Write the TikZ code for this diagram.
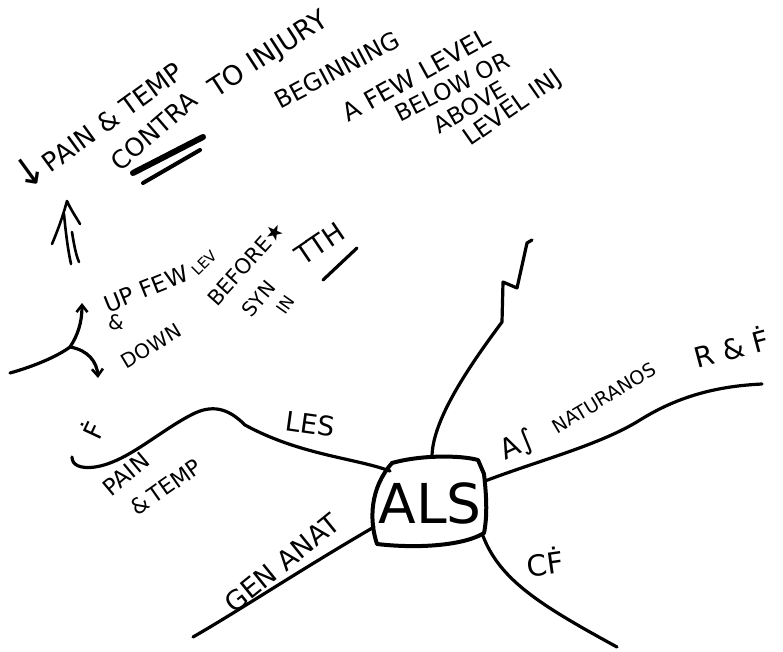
\documentclass[tikz,border=0pt]{standalone}
\usepackage{fontspec}
\setmainfont{DejaVu Sans}
\usetikzlibrary{arrows.meta}
\tikzset{
  hw/.style={inner sep=0pt, font=\fontsize{#1}{#1}\selectfont},
  hw/.default=20,
  pen/.style={line width=3.2pt, line cap=round, line join=round, black},
  tip/.style={-{Straight Barb[length=7pt,width=11pt,line width=2.6pt]}}
}
\begin{document}
\begin{tikzpicture}[x=1pt,y=-1pt]
\useasboundingbox (0,0) rectangle (783,651);
\fill[white] (0,0) rectangle (783,651);

% ---- central box
\node[hw=55] (als) at (430,503) {ALS};
\draw[pen,line width=4pt] (392,463) .. controls (420,455) and (460,455) .. (478,460)
  -- (484,474) .. controls (487,500) and (487,518) .. (484,533)
  .. controls (465,545) and (420,549) .. (377,544)
  .. controls (369,520) and (370,488) .. (392,463) -- cycle;

% ---- branch anchors
\coordinate (bL) at (390,471);
\coordinate (bT) at (432,457);
\coordinate (bR) at (485,481);
\coordinate (bBR) at (483,536);
\coordinate (bBL) at (374,527);
\coordinate (eL) at (72,457);
\coordinate (eT) at (532,240);
\coordinate (eR) at (762,384);
\coordinate (eBR) at (617,647);
\coordinate (eBL) at (193,637);

% ---- branches
\draw[pen] (bL) .. controls (355,458) and (300,455) .. (245,425)
  .. controls (230,410) and (215,404) .. (195,413)
  .. controls (160,430) and (128,462) .. (95,467)
  .. controls (80,469) and (72,465) .. (eL);
\draw[pen] (bT) .. controls (432,420) and (470,365) .. (502,322)
  -- (503,282) -- (517,288) -- (527,243) -- (eT);
\draw[pen] (bR) .. controls (540,460) and (600,445) .. (640,420)
  .. controls (680,395) and (720,386) .. (eR);
\draw[pen] (bBR) .. controls (500,580) and (540,605) .. (eBR);
\draw[pen] (bBL) .. controls (300,570) and (240,610) .. (eBL);

% ---- branch labels
\node[hw=26, rotate=65] (fdotL) at (92,430) {Ḟ};
\node[hw=27, rotate=-8] (les) at (310,424) {LES};
\node[hw=23, rotate=40] (pain) at (126,474) {PAIN};
\node[hw=22, rotate=35] (temp) at (166,487) {\&\,TEMP};
\node[hw=27, rotate=39] (gen) at (282,563) {GEN ANAT};
\node[hw=28, rotate=25] (as) at (518,446) {A∫};
\node[hw=19, rotate=31] (natur) at (604,398) {NATURANOS};
\node[hw=28, rotate=15] (rf) at (731,347) {R \& Ḟ};
\node[hw=29, rotate=8] (cf) at (545,562) {CḞ};

% ---- upper left fork arrows
\coordinate (fork) at (70,347);
\coordinate (fs) at (10,373);
\coordinate (fu) at (82,303);
\coordinate (fd) at (98,378);
\draw[pen] (fs) .. controls (35,366) and (58,356) .. (fork);
\draw[pen,tip] (fork) .. controls (78,335) and (82,322) .. (fu);
\draw[pen,tip] (fork) .. controls (88,350) and (97,362) .. (fd);

% ---- double arrow up
\coordinate (dtip) at (67,201);
\draw[pen,line width=2.6pt] (52,244) .. controls (60,225) and (64,212) .. (dtip)
  .. controls (71,210) and (76,217) .. (80,224);
\draw[pen,line width=2.6pt] (64,214) .. controls (66,235) and (68,250) .. (71,264);
\draw[pen,line width=2.6pt] (72,232) .. controls (74,245) and (76,255) .. (79,262);

% ---- middle-left notes
\node[hw=23, rotate=22] (upfew) at (146,289) {UP FEW};
\node[hw=15, rotate=45] (lev) at (204,263) {LEV};
\node[hw=21, rotate=48] (before) at (246,264) {BEFORE★};
\node[hw=20] (amp) at (116,322) {\&};
\node[hw=20, rotate=31] (down) at (151,346) {DOWN};
\node[hw=20, rotate=50] (syn) at (259,299) {SYN};
\node[hw=17, rotate=55] (in) at (286,305) {IN};
\node[hw=27, rotate=34] (tth) at (320,244) {TTH};
\draw[pen] (323,280) -- (357,248);

% ---- top notes
\node[hw=26, rotate=36] (paintemp) at (96,123) {{\fontsize{40}{40}\selectfont ↓}PAIN \& TEMP};
\node[hw=25, rotate=41] (contra) at (154,131) {CONTRA};
\node[hw=27, rotate=33] (toinj) at (269,55) {TO INJURY};
\draw[pen,line width=6pt] (133,173) -- (203,137);
\draw[pen,line width=4pt] (143,183) -- (200,150);
\node[hw=24, rotate=28] (beg) at (337,70) {BEGINNING};
\node[hw=25, rotate=29] (afew) at (416,75) {A FEW LEVEL};
\node[hw=23, rotate=27] (below) at (452,87) {BELOW OR};
\node[hw=23, rotate=30] (above) at (470,107) {ABOVE};
\node[hw=24, rotate=35] (levinj) at (513,109) {LEVEL INJ};
\end{tikzpicture}
\end{document}
